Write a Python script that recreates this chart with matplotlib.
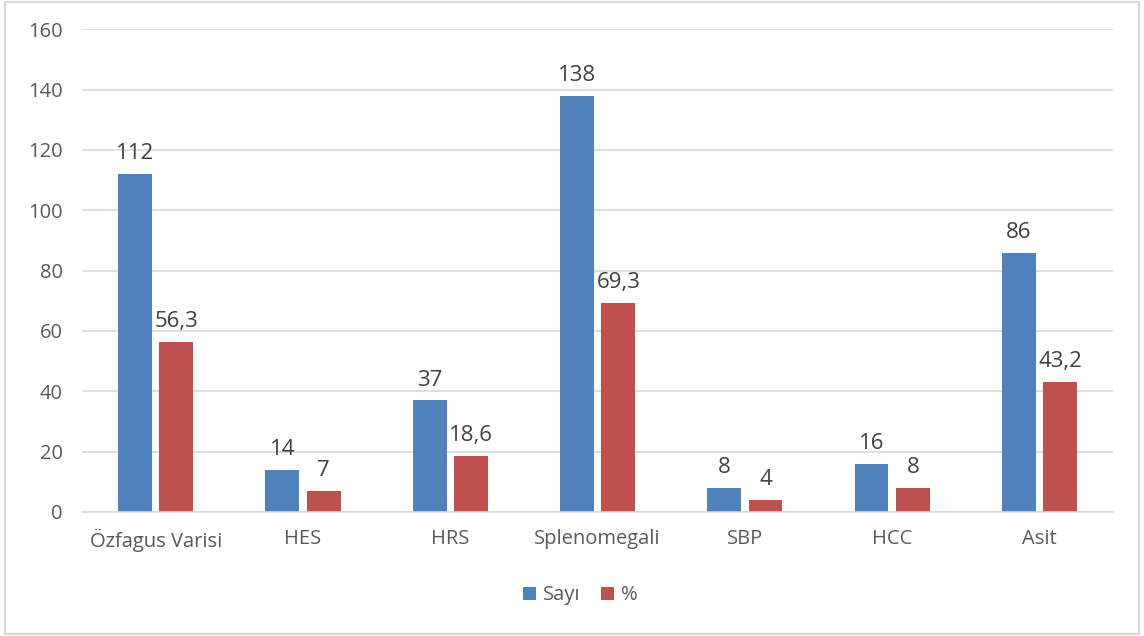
import numpy as np
import matplotlib
matplotlib.use("Agg")
import matplotlib.pyplot as plt
from matplotlib.patches import Rectangle

plt.rcParams["font.family"] = ["Open Sans", "DejaVu Sans"]

categories = ["Özfagus Varisi", "HES", "HRS", "Splenomegali", "SBP", "HCC", "Asit"]
sayi = [112, 14, 37, 138, 8, 16, 86]
yuzde = [56.3, 7, 18.6, 69.3, 4, 8, 43.2]
sayi_labels = ["112", "14", "37", "138", "8", "16", "86"]
yuzde_labels = ["56,3", "7", "18,6", "69,3", "4", "8", "43,2"]

blue = "#4F81BD"
red = "#C0504D"
txt = "#595959"

fig = plt.figure(figsize=(11.44, 6.36), dpi=100)
ax = fig.add_axes([0.0717, 0.195, 0.9013, 0.759])

x = np.arange(len(categories))
width = 0.23
gap = 0.025
b1 = ax.bar(x - width / 2 - gap, sayi, width, color=blue, label="Sayı")
b2 = ax.bar(x + width / 2 + gap, yuzde, width, color=red, label="%")

for rects, labels in ((b1, sayi_labels), (b2, yuzde_labels)):
    for rect, lab in zip(rects, labels):
        ax.annotate(lab, xy=(rect.get_x() + rect.get_width() / 2, rect.get_height()),
                    xytext=(0, 7), textcoords="offset points",
                    ha="center", va="bottom", fontsize=16, color="#404040")

ax.set_xlim(-0.5, len(categories) - 0.5)
ax.set_ylim(0, 160)
ax.set_yticks(np.arange(0, 161, 20))
ax.set_xticks(x)
ax.set_xticklabels(categories)
ax.tick_params(axis="both", length=0, labelsize=14.5, colors=txt)
ax.tick_params(axis="x", pad=12)
ax.tick_params(axis="y", pad=14)
ax.yaxis.grid(True, color="#D9D9D9", linewidth=1.2)
ax.set_axisbelow(True)
for s in ("top", "right", "left"):
    ax.spines[s].set_visible(False)
ax.spines["bottom"].set_color("#D9D9D9")
ax.spines["bottom"].set_linewidth(1.2)

fig.legend(handles=[b1, b2], loc="center", bbox_to_anchor=(0.507, 0.064), ncol=2,
           frameon=False, fontsize=14.5, labelcolor=txt, handlelength=0.65,
           handleheight=0.65, handletextpad=0.35, columnspacing=1.0)

fig.patches.append(Rectangle((0.004, 0.003), 0.992, 0.994, transform=fig.transFigure,
                             fill=False, edgecolor="#D9D9D9", linewidth=1.5))

fig.savefig("out.png", dpi=100)
